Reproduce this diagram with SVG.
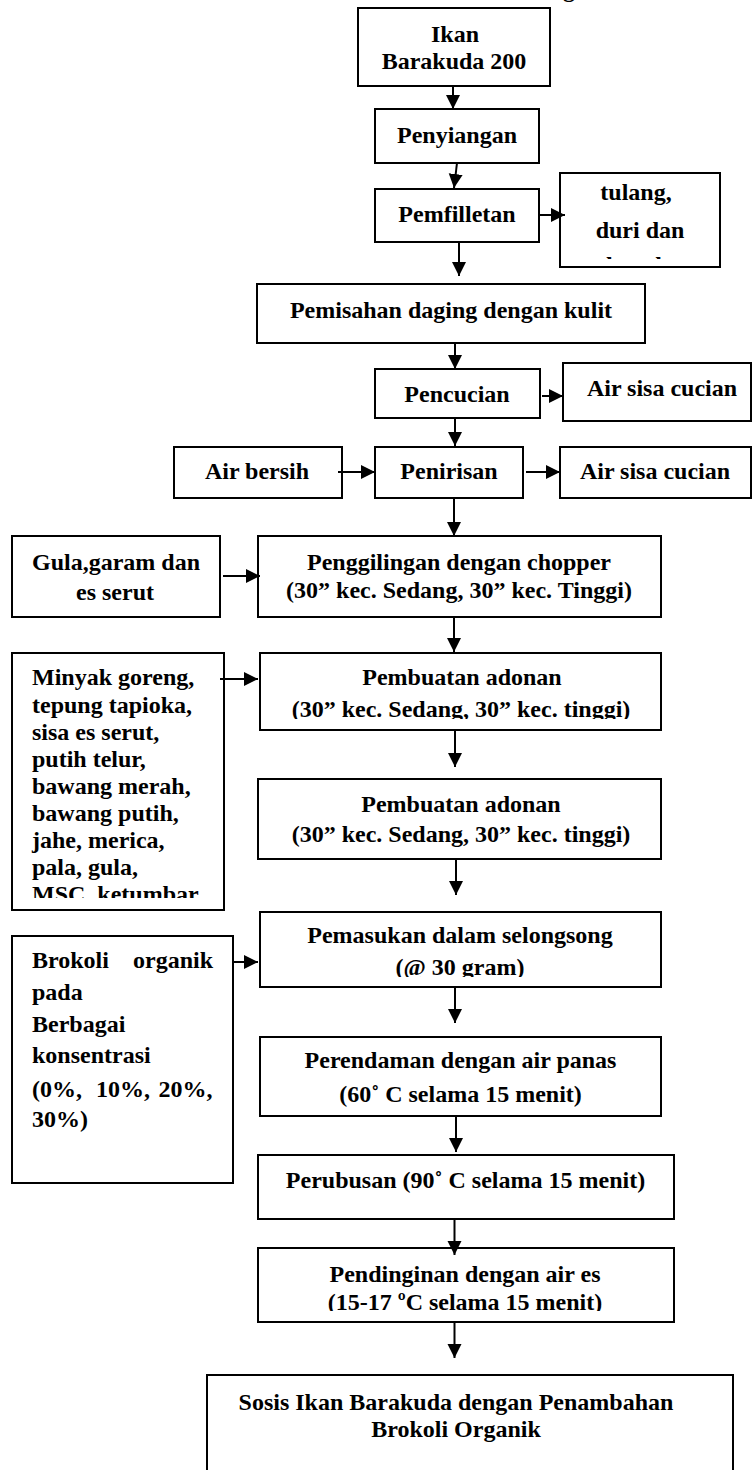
<svg xmlns="http://www.w3.org/2000/svg" width="753" height="1470" viewBox="0 0 753 1470">
<style>
.box{fill:#fff;stroke:#000;stroke-width:2}
.t{font-family:"Liberation Serif","Times New Roman",serif;font-weight:bold;font-size:24px;fill:#000}
.c{text-anchor:middle}
.ln{stroke:#000;stroke-width:2;fill:none}
</style>
<defs>
<marker id="ah" markerUnits="userSpaceOnUse" markerWidth="15" markerHeight="15" refX="14" refY="7" orient="auto">
<path d="M0,0 L14,7 L0,14 Z" fill="#000"/>
</marker>
<clipPath id="clipTulang"><rect x="560" y="173" width="160" height="86"/></clipPath>
<clipPath id="clipPemb1"><rect x="260" y="653" width="401" height="66"/></clipPath>
<clipPath id="clipMinyak"><rect x="12" y="653" width="212" height="245"/></clipPath>
<clipPath id="clipPemasukan"><rect x="260" y="912" width="401" height="65"/></clipPath>
<clipPath id="clipPendingin"><rect x="258" y="1248" width="416" height="63"/></clipPath>
</defs>
<rect width="753" height="1470" fill="#fff"/>

<g id="title-fragment"><text class="t" x="563" y="-3">g</text></g>

<g id="ikan"><rect class="box" x="358" y="8" width="192" height="78"/>
<text class="t c" x="455" y="42">Ikan</text><text class="t c" x="454" y="69">Barakuda 200</text></g>

<g id="penyiangan"><rect class="box" x="375" y="109" width="164" height="54"/>
<text class="t c" x="457" y="143">Penyiangan</text></g>

<g id="pemfilletan"><rect class="box" x="375" y="189" width="164" height="53"/>
<text class="t c" x="457" y="222">Pemfilletan</text></g>

<g id="tulang"><rect class="box" x="560" y="173" width="160" height="94"/>
<text class="t c" x="636" y="200">tulang,</text><text class="t c" x="640" y="238">duri dan</text>
<text class="t c" x="640" y="273" clip-path="url(#clipTulang)">kepala</text></g>

<g id="pemisahan"><rect class="box" x="257" y="284" width="388" height="59"/>
<text class="t c" x="451" y="318">Pemisahan daging dengan kulit</text></g>

<g id="pencucian"><rect class="box" x="375" y="369" width="165" height="49"/>
<text class="t c" x="457" y="402">Pencucian</text></g>

<g id="air-sisa-1"><rect class="box" x="563" y="363" width="188" height="58"/>
<text class="t c" x="662" y="396">Air sisa cucian</text></g>

<g id="air-bersih"><rect class="box" x="174" y="447" width="168" height="51"/>
<text class="t c" x="257" y="479">Air bersih</text></g>

<g id="penirisan"><rect class="box" x="375" y="447" width="148" height="51"/>
<text class="t c" x="449" y="479">Penirisan</text></g>

<g id="air-sisa-2"><rect class="box" x="560" y="447" width="191" height="51"/>
<text class="t c" x="655" y="479">Air sisa cucian</text></g>

<g id="gula"><rect class="box" x="12" y="536" width="208" height="81"/>
<text class="t c" x="116" y="570">Gula,garam dan</text><text class="t c" x="115" y="600">es serut</text></g>

<g id="penggilingan"><rect class="box" x="258" y="536" width="403" height="81"/>
<text class="t c" x="459" y="570">Penggilingan dengan chopper</text>
<text class="t c" x="459" y="598">(30” kec. Sedang, 30” kec. Tinggi)</text></g>

<g id="minyak"><rect class="box" x="12" y="653" width="212" height="257"/>
<g clip-path="url(#clipMinyak)">
<text class="t" x="32" y="685">Minyak goreng,</text>
<text class="t" x="32" y="712.5">tepung tapioka,</text>
<text class="t" x="32" y="739.5">sisa es serut,</text>
<text class="t" x="32" y="766.5">putih telur,</text>
<text class="t" x="32" y="794">bawang merah,</text>
<text class="t" x="32" y="821">bawang putih,</text>
<text class="t" x="32" y="848">jahe, merica,</text>
<text class="t" x="32" y="875">pala, gula,</text>
<text class="t" x="32" y="902">MSC, ketumbar</text>
</g></g>

<g id="pembuatan-adonan-1"><rect class="box" x="260" y="653" width="401" height="77"/>
<text class="t c" x="462" y="685">Pembuatan adonan</text>
<text class="t c" x="461" y="717" clip-path="url(#clipPemb1)">(30” kec. Sedang, 30” kec. tinggi)</text></g>

<g id="pembuatan-adonan-2"><rect class="box" x="258" y="779" width="403" height="80"/>
<text class="t c" x="461" y="812">Pembuatan adonan</text>
<text class="t c" x="461" y="842">(30” kec. Sedang, 30” kec. tinggi)</text></g>

<g id="pemasukan"><rect class="box" x="260" y="912" width="401" height="75"/>
<text class="t c" x="460" y="943">Pemasukan dalam selongsong</text>
<text class="t c" x="460" y="975" clip-path="url(#clipPemasukan)">(@ 30 gram)</text></g>

<g id="brokoli"><rect class="box" x="12" y="936" width="221" height="247"/>
<text class="t" y="968"><tspan x="32">Brokoli</tspan><tspan x="213" text-anchor="end">organik</tspan></text>
<text class="t" x="32" y="1000">pada</text>
<text class="t" x="32" y="1032">Berbagai</text>
<text class="t" x="32" y="1063">konsentrasi</text>
<text class="t" y="1097"><tspan x="32">(0%,</tspan><tspan x="96">10%,</tspan><tspan x="158.5">20%,</tspan></text>
<text class="t" x="32" y="1127">30%)</text></g>

<g id="perendaman"><rect class="box" x="260" y="1037" width="401" height="79"/>
<text class="t c" x="460.5" y="1068">Perendaman dengan air panas</text>
<text class="t c" x="460.5" y="1102">(60˚ C selama 15 menit)</text></g>

<g id="perubusan"><rect class="box" x="258" y="1155" width="416" height="64"/>
<text class="t c" x="465.5" y="1188">Perubusan (90˚ C selama 15 menit)</text></g>

<g id="pendinginan"><rect class="box" x="258" y="1248" width="416" height="74"/>
<text class="t c" x="465" y="1282">Pendinginan dengan air es</text>
<text class="t c" x="465" y="1309.5" clip-path="url(#clipPendingin)">(15-17 ºC selama 15 menit)</text></g>

<g id="sosis"><rect class="box" x="207" y="1375" width="526" height="110"/>
<text class="t c" x="456" y="1410">Sosis Ikan Barakuda dengan Penambahan</text>
<text class="t c" x="456" y="1437">Brokoli Organik</text></g>

<g id="connectors">
<line class="ln" x1="453" y1="86" x2="453" y2="109" marker-end="url(#ah)"/>
<line class="ln" x1="457" y1="163" x2="454" y2="188" marker-end="url(#ah)"/>
<line class="ln" x1="459" y1="242" x2="459" y2="276" marker-end="url(#ah)"/>
<line class="ln" x1="455" y1="343" x2="455" y2="369" marker-end="url(#ah)"/>
<line class="ln" x1="455" y1="418" x2="455" y2="446" marker-end="url(#ah)"/>
<line class="ln" x1="454" y1="498" x2="454" y2="536" marker-end="url(#ah)"/>
<line class="ln" x1="454" y1="617" x2="454" y2="652" marker-end="url(#ah)"/>
<line class="ln" x1="455" y1="730" x2="455" y2="767" marker-end="url(#ah)"/>
<line class="ln" x1="456" y1="859" x2="456" y2="895" marker-end="url(#ah)"/>
<line class="ln" x1="455" y1="987" x2="455" y2="1023" marker-end="url(#ah)"/>
<line class="ln" x1="456" y1="1116" x2="456" y2="1152" marker-end="url(#ah)"/>
<line class="ln" x1="454.5" y1="1219" x2="454.5" y2="1255" marker-end="url(#ah)"/>
<line class="ln" x1="454.5" y1="1322" x2="454.5" y2="1358" marker-end="url(#ah)"/>
<line class="ln" x1="539" y1="215" x2="565" y2="215" marker-end="url(#ah)"/>
<line class="ln" x1="542" y1="396" x2="563" y2="396" marker-end="url(#ah)"/>
<line class="ln" x1="338" y1="472" x2="375" y2="472" marker-end="url(#ah)"/>
<line class="ln" x1="526" y1="472" x2="560" y2="472" marker-end="url(#ah)"/>
<line class="ln" x1="223" y1="576" x2="260" y2="576" marker-end="url(#ah)"/>
<line class="ln" x1="220" y1="679" x2="258" y2="679" marker-end="url(#ah)"/>
<line class="ln" x1="233" y1="962" x2="258" y2="962" marker-end="url(#ah)"/>
</g>
</svg>
